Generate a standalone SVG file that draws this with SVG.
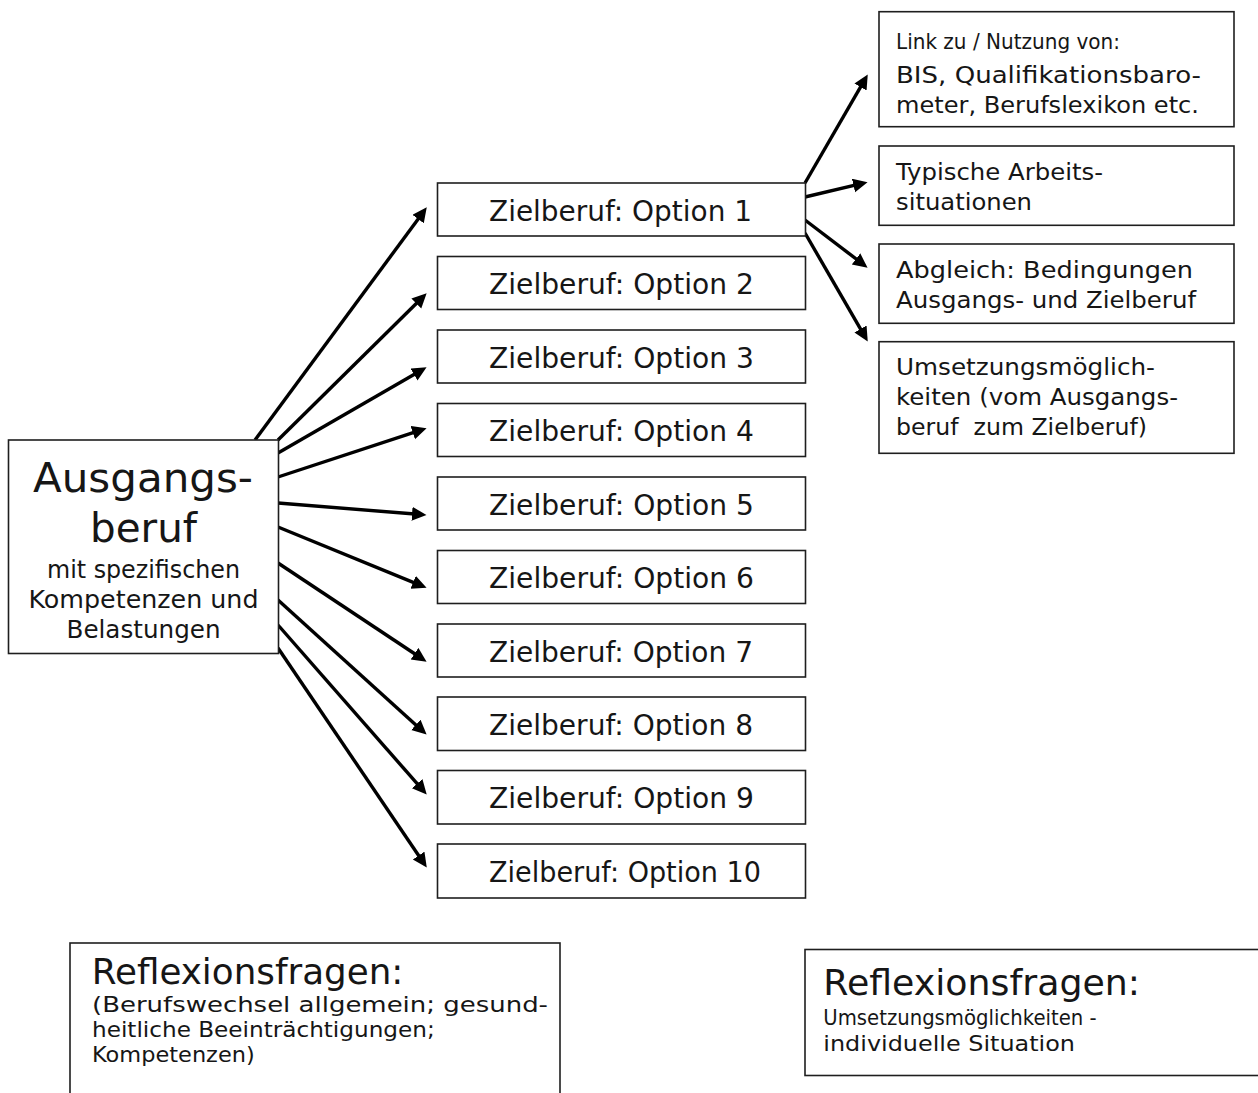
<svg xmlns="http://www.w3.org/2000/svg" width="1258" height="1093" viewBox="0 0 1258 1093">
<defs>
<style>
.bg{fill:#ffffff}
.box{fill:#ffffff;stroke:#1e1e1e;stroke-width:1.6}
.t{font-family:"DejaVu Sans","Liberation Sans",sans-serif;fill:#161616}
.opt{font-size:28.5px}
.big{font-size:41px}
.sm{font-size:24.5px}
.rb{font-size:23.5px}
.lk{font-size:20.5px}
.rf{font-size:35.5px}
.bl{font-size:20.5px}
.br{font-size:21px}
.arr{stroke:#000;stroke-width:3.4;fill:none;marker-end:url(#ah)}
</style>
<marker id="ah" markerUnits="userSpaceOnUse" markerWidth="18" markerHeight="16" refX="6" refY="7" orient="auto">
<path d="M0,0 L14.5,7 L0,14 Z" fill="#000"/>
</marker>
</defs>
<rect class="bg" x="0" y="0" width="1258" height="1093"/>

<g id="connectors">
<line class="arr" x1="255" y1="440" x2="421.7" y2="214.2"/>
<line class="arr" x1="278" y1="440" x2="420.6" y2="299.3"/>
<line class="arr" x1="278" y1="453" x2="419.2" y2="371.5"/>
<line class="arr" x1="278" y1="477" x2="418.5" y2="430.8"/>
<line class="arr" x1="278" y1="503" x2="418.0" y2="514.3"/>
<line class="arr" x1="278" y1="527" x2="418.7" y2="584.6"/>
<line class="arr" x1="278" y1="563" x2="419.5" y2="657"/>
<line class="arr" x1="278" y1="600" x2="420.3" y2="728.9"/>
<line class="arr" x1="278" y1="625" x2="421.1" y2="788.2"/>
<line class="arr" x1="278" y1="648" x2="422" y2="860.5"/>
<line class="arr" x1="805" y1="183" x2="863.5" y2="81.8"/>
<line class="arr" x1="805" y1="197" x2="859.3" y2="184.1"/>
<line class="arr" x1="805" y1="220" x2="860.8" y2="262.5"/>
<line class="arr" x1="805" y1="233" x2="863.5" y2="334.2"/>
</g>

<g id="ausgangsberuf">
<rect class="box" x="8.5" y="440" width="270" height="213.5"/>
<text class="t big" x="143" y="491.7" text-anchor="middle" textLength="220" lengthAdjust="spacingAndGlyphs">Ausgangs-</text>
<text class="t big" x="143.5" y="541.7" text-anchor="middle" textLength="107" lengthAdjust="spacingAndGlyphs">beruf</text>
<text class="t sm" x="143.5" y="578.3" text-anchor="middle" textLength="193" lengthAdjust="spacingAndGlyphs">mit spezifischen</text>
<text class="t sm" x="143.5" y="608.3" text-anchor="middle" textLength="230" lengthAdjust="spacingAndGlyphs">Kompetenzen und</text>
<text class="t sm" x="143.5" y="638.3" text-anchor="middle" textLength="154" lengthAdjust="spacingAndGlyphs">Belastungen</text>
</g>

<g id="option1"><rect class="box" x="437.5" y="183" width="368" height="53"/><text class="t opt" x="489" y="220.7" textLength="263" lengthAdjust="spacingAndGlyphs">Zielberuf: Option 1</text></g>
<g id="option2"><rect class="box" x="437.5" y="256.5" width="368" height="53"/><text class="t opt" x="489" y="294.2" textLength="265" lengthAdjust="spacingAndGlyphs">Zielberuf: Option 2</text></g>
<g id="option3"><rect class="box" x="437.5" y="330" width="368" height="53"/><text class="t opt" x="489" y="367.7" textLength="265" lengthAdjust="spacingAndGlyphs">Zielberuf: Option 3</text></g>
<g id="option4"><rect class="box" x="437.5" y="403.5" width="368" height="53"/><text class="t opt" x="489" y="441.2" textLength="265" lengthAdjust="spacingAndGlyphs">Zielberuf: Option 4</text></g>
<g id="option5"><rect class="box" x="437.5" y="477" width="368" height="53"/><text class="t opt" x="489" y="514.7" textLength="265" lengthAdjust="spacingAndGlyphs">Zielberuf: Option 5</text></g>
<g id="option6"><rect class="box" x="437.5" y="550.5" width="368" height="53"/><text class="t opt" x="489" y="588.2" textLength="265" lengthAdjust="spacingAndGlyphs">Zielberuf: Option 6</text></g>
<g id="option7"><rect class="box" x="437.5" y="624" width="368" height="53"/><text class="t opt" x="489" y="661.7" textLength="264" lengthAdjust="spacingAndGlyphs">Zielberuf: Option 7</text></g>
<g id="option8"><rect class="box" x="437.5" y="697" width="368" height="53.5"/><text class="t opt" x="489" y="734.7" textLength="264" lengthAdjust="spacingAndGlyphs">Zielberuf: Option 8</text></g>
<g id="option9"><rect class="box" x="437.5" y="770.5" width="368" height="53.5"/><text class="t opt" x="489" y="808.2" textLength="265" lengthAdjust="spacingAndGlyphs">Zielberuf: Option 9</text></g>
<g id="option10"><rect class="box" x="437.5" y="844" width="368" height="54"/><text class="t opt" x="489" y="882" textLength="272" lengthAdjust="spacingAndGlyphs">Zielberuf: Option 10</text></g>

<g id="info-links">
<rect class="box" x="879" y="11.7" width="355" height="115"/>
<text class="t lk" x="896" y="49" textLength="224" lengthAdjust="spacingAndGlyphs">Link zu / Nutzung von:</text>
<text class="t rb" x="896" y="82.5" textLength="305" lengthAdjust="spacingAndGlyphs">BIS, Qualifikationsbaro-</text>
<text class="t rb" x="896" y="113" textLength="303" lengthAdjust="spacingAndGlyphs">meter, Berufslexikon etc.</text>
</g>
<g id="info-arbeit">
<rect class="box" x="879" y="146" width="355" height="79.3"/>
<text class="t rb" x="896" y="180" textLength="207" lengthAdjust="spacingAndGlyphs">Typische Arbeits-</text>
<text class="t rb" x="896" y="210" textLength="136" lengthAdjust="spacingAndGlyphs">situationen</text>
</g>
<g id="info-abgleich">
<rect class="box" x="879" y="244" width="355" height="79.3"/>
<text class="t rb" x="896" y="278.3" textLength="297" lengthAdjust="spacingAndGlyphs">Abgleich: Bedingungen</text>
<text class="t rb" x="896" y="308.3" textLength="300" lengthAdjust="spacingAndGlyphs">Ausgangs- und Zielberuf</text>
</g>
<g id="info-umsetzung">
<rect class="box" x="879" y="341.7" width="355" height="111.6"/>
<text class="t rb" x="896" y="375" textLength="259" lengthAdjust="spacingAndGlyphs">Umsetzungsmöglich-</text>
<text class="t rb" x="896" y="405" textLength="282" lengthAdjust="spacingAndGlyphs">keiten (vom Ausgangs-</text>
<text class="t rb" x="896" y="435" textLength="251" lengthAdjust="spacingAndGlyphs" xml:space="preserve">beruf  zum Zielberuf)</text>
</g>

<g id="reflexion-allgemein">
<rect class="box" x="70" y="943" width="490" height="200"/>
<text class="t rf" x="91.7" y="984" textLength="311.7" lengthAdjust="spacingAndGlyphs">Reflexionsfragen:</text>
<text class="t bl" x="92" y="1012" textLength="456" lengthAdjust="spacingAndGlyphs">(Berufswechsel allgemein; gesund-</text>
<text class="t bl" x="92" y="1037" textLength="342.7" lengthAdjust="spacingAndGlyphs">heitliche Beeinträchtigungen;</text>
<text class="t bl" x="92" y="1062" textLength="162.7" lengthAdjust="spacingAndGlyphs">Kompetenzen)</text>
</g>

<g id="reflexion-individuell">
<rect class="box" x="805" y="949.5" width="500" height="126"/>
<text class="t rf" x="823.3" y="995" textLength="316.7" lengthAdjust="spacingAndGlyphs">Reflexionsfragen:</text>
<text class="t br" x="823.3" y="1025" textLength="273.3" lengthAdjust="spacingAndGlyphs">Umsetzungsmöglichkeiten -</text>
<text class="t br" x="823.3" y="1050.7" textLength="251.7" lengthAdjust="spacingAndGlyphs">individuelle Situation</text>
</g>
</svg>
